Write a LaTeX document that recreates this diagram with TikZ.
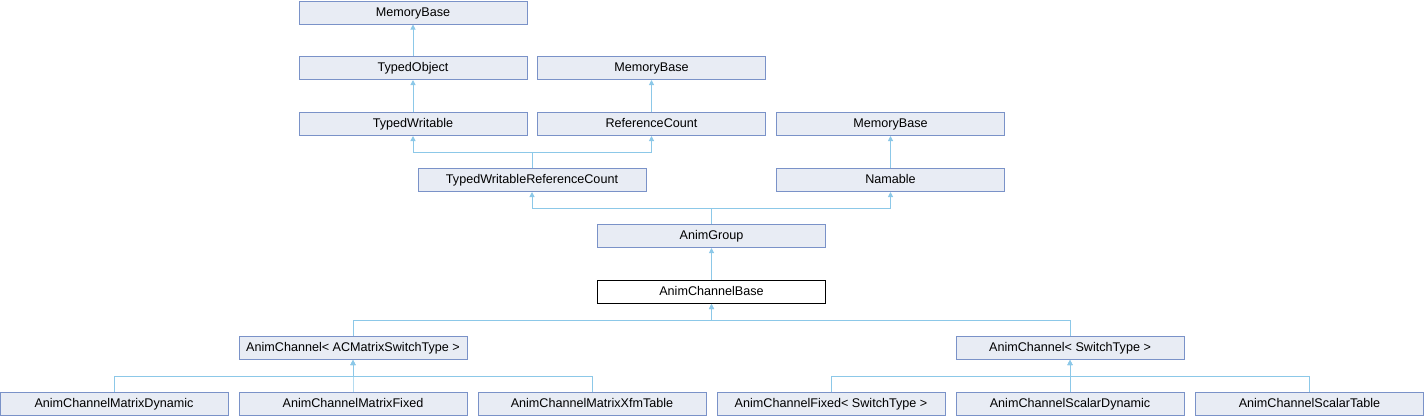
\documentclass[tikz,border=0pt]{standalone}
\usepackage{fontspec}
\setmainfont{Liberation Sans}
\usetikzlibrary{arrows.meta}
\definecolor{boxfill}{RGB}{232,236,244}
\definecolor{boxline}{RGB}{122,146,200}
\definecolor{edgecol}{RGB}{140,200,232}
\tikzset{
  cls/.style={draw=boxline, fill=boxfill, line width=1pt, minimum width=228pt, minimum height=23pt, inner sep=0pt, text height=9.5pt, text depth=2.5pt, font=\fontsize{12.6}{14}\selectfont, text=black},
  curcls/.style={cls, draw=black, fill=white},
  edge/.style={draw=edgecol, line width=1pt, -{Triangle[width=5pt,length=5pt]}},
}
\begin{document}
\begin{tikzpicture}[x=1pt,y=-1pt]
\useasboundingbox (0,0) rectangle (1424,416);
% row 1
\node[cls] (mb1) at (413,12.5) {MemoryBase};
% row 2
\node[cls] (to) at (413,68) {TypedObject};
\node[cls] (mb2) at (651.5,68) {MemoryBase};
% row 3
\node[cls] (tw) at (413,124) {TypedWritable};
\node[cls] (rc) at (651.5,124) {ReferenceCount};
\node[cls] (mb3) at (890.5,124) {MemoryBase};
% row 4
\node[cls] (twrc) at (532,180) {TypedWritableReferenceCount};
\node[cls] (nam) at (890.5,180) {Namable};
% row 5
\node[cls] (ag) at (711.5,236) {AnimGroup};
% row 6
\node[curcls] (acb) at (711.5,292) {AnimChannelBase};
% row 7
\node[cls] (acm) at (353,348) {AnimChannel< ACMatrixSwitchType >};
\node[cls] (acs) at (1070,348) {AnimChannel< SwitchType >};
% row 8
\node[cls] (md) at (114,404) {AnimChannelMatrixDynamic};
\node[cls] (mf) at (353,404) {AnimChannelMatrixFixed};
\node[cls] (mx) at (592,404) {AnimChannelMatrixXfmTable};
\node[cls] (fs) at (831,404) {AnimChannelFixed< SwitchType >};
\node[cls] (sd) at (1070,404) {AnimChannelScalarDynamic};
\node[cls] (st) at (1309.5,404) {AnimChannelScalarTable};
% edges
\draw[edge] (to.north) -- (mb1.south);
\draw[edge] (tw.north) -- (to.south);
\draw[edge] (rc.north) -- (mb2.south);
\draw[edge] (nam.north) -- (mb3.south);
\draw[edge] (twrc.north) -- ++(0,-16) -| (tw.south);
\draw[edge] (twrc.north) -- ++(0,-16) -| (rc.south);
\draw[edge] (ag.north) -- ++(0,-16) -| (twrc.south);
\draw[edge] (ag.north) -- ++(0,-16) -| (nam.south);
\draw[edge] (acb.north) -- (ag.south);
\draw[edge] (acm.north) -- ++(0,-16) -| (acb.south);
\draw[edge] (acs.north) -- ++(0,-16) -| (acb.south);
\draw[edge] (md.north) -- ++(0,-16) -| (acm.south);
\draw[edge] (mf.north) -- ++(0,-16) -| (acm.south);
\draw[edge] (mx.north) -- ++(0,-16) -| (acm.south);
\draw[edge] (fs.north) -- ++(0,-16) -| (acs.south);
\draw[edge] (sd.north) -- ++(0,-16) -| (acs.south);
\draw[edge] (st.north) -- ++(0,-16) -| (acs.south);
\end{tikzpicture}
\end{document}
